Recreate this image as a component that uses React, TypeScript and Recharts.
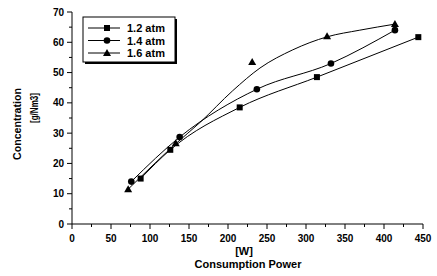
import { ComposedChart, Line, Scatter, XAxis, YAxis } from "recharts";

// power [W] / concentration [g/Nm3]
const x12 = [88, 126, 215, 314, 444];
const y12 = [15, 24.5, 38.5, 48.5, 61.7];
const x14 = [76, 138, 237, 332, 414];
const y14 = [14, 28.7, 44.5, 53, 64];
const x16 = [72, 133, 231, 327, 414];
const y16 = [11.5, 26.7, 53.5, 62, 66];

// fitted curve for 1.6 atm (does not pass through every point)
const fitX16 = [72, 100, 133, 164, 206, 241, 283, 327, 369, 414];
const fitY16 = [11.5, 18.5, 26.5, 33.5, 44, 51.5, 57.5, 61.8, 64, 66];

const xTicks = [0, 25, 50, 75, 100, 125, 150, 175, 200, 225, 250, 275, 300, 325, 350, 375, 400, 425, 450];
const yTicks = [0, 5, 10, 15, 20, 25, 30, 35, 40, 45, 50, 55, 60, 65, 70];

const legendItems = ["1.2 atm", "1.4 atm", "1.6 atm"];

const zip = (xs: number[], ys: number[]) => xs.map((x, i) => ({ x, y: ys[i] }));

const pts12 = zip(x12, y12);
const pts14 = zip(x14, y14);
const pts16 = zip(x16, y16);
const fit16 = zip(fitX16, fitY16);

const FONT = "'Liberation Sans', Arial, sans-serif";

const LeftTick = ({ x, y, payload }: any) => {
    const major = payload.value % 10 === 0;
    return (
        <g>
            <line x1={x} x2={x - (major ? 5 : 3)} y1={y} y2={y} stroke="#000" />
            {major && (
                <text x={x - 8} y={y} dy={3.5} textAnchor="end" fontSize={10} fontWeight="bold" fontFamily={FONT} fill="#000">
                    {payload.value}
                </text>
            )}
        </g>
    );
};

const BottomTick = ({ x, y, payload }: any) => {
    const major = payload.value % 50 === 0;
    return (
        <g>
            <line x1={x} x2={x} y1={y} y2={y + (major ? 5 : 3)} stroke="#000" />
            {major && (
                <text x={x} y={y + 17.5} textAnchor="middle" fontSize={10} fontWeight="bold" fontFamily={FONT} fill="#000">
                    {payload.value}
                </text>
            )}
        </g>
    );
};

const TopTick = ({ x, y, payload }: any) => {
    const major = payload.value % 50 === 0;
    return <line x1={x} x2={x} y1={y} y2={y + (major ? 5 : 3)} stroke="#000" />;
};

const RightTick = ({ x, y, payload }: any) => {
    const major = payload.value % 10 === 0;
    return <line x1={x} x2={x - (major ? 5 : 3)} y1={y} y2={y} stroke="#000" />;
};

const Square = ({ cx, cy }: any) => <rect x={cx - 3} y={cy - 3} width={6} height={6} fill="#000" />;
const Dot = ({ cx, cy }: any) => <circle cx={cx} cy={cy} r={3.3} fill="#000" />;
const Tri = ({ cx, cy }: any) => <path d={`M${cx},${cy - 4} L${cx + 4},${cy + 3} L${cx - 4},${cy + 3} Z`} fill="#000" />;

const markers = [Square, Dot, Tri];

export default function App() {
    return (
        <div style={{ position: "fixed", top: 0, left: 0, width: 437, height: 276, background: "#fff" }}>
            <ComposedChart width={437} height={276} margin={{ top: 12, right: 14, bottom: 0, left: 0 }}>
                <XAxis
                    dataKey="x" type="number" domain={[0, 450]} ticks={xTicks} interval={0}
                    height={52} tickSize={0} tickMargin={0} tickLine={false}
                    axisLine={{ stroke: "#000" }} tick={<BottomTick />}
                />
                <XAxis
                    xAxisId="top" orientation="top" dataKey="x" type="number" domain={[0, 450]} ticks={xTicks}
                    interval={0} height={0} tickSize={0} tickMargin={0} tickLine={false}
                    axisLine={{ stroke: "#000" }} tick={<TopTick />}
                />
                <YAxis
                    type="number" domain={[0, 70]} ticks={yTicks} interval={0} width={72}
                    tickSize={0} tickMargin={0} tickLine={false}
                    axisLine={{ stroke: "#000" }} tick={<LeftTick />}
                />
                <YAxis
                    yAxisId="right" orientation="right" type="number" domain={[0, 70]} ticks={yTicks} interval={0}
                    width={0} tickSize={0} tickMargin={0} tickLine={false}
                    axisLine={{ stroke: "#000" }} tick={<RightTick />}
                />
                <Line data={pts12} dataKey="y" type="monotone" stroke="#000" strokeWidth={1} dot={false} isAnimationActive={false} />
                <Line data={pts14} dataKey="y" type="monotone" stroke="#000" strokeWidth={1} dot={false} isAnimationActive={false} />
                <Line data={fit16} dataKey="y" type="monotone" stroke="#000" strokeWidth={1} dot={false} isAnimationActive={false} />
                <Scatter data={pts12} dataKey="y" shape={<Square />} isAnimationActive={false} />
                <Scatter data={pts14} dataKey="y" shape={<Dot />} isAnimationActive={false} />
                <Scatter data={pts16} dataKey="y" shape={<Tri />} isAnimationActive={false} />
            </ComposedChart>
            <svg width={437} height={276} style={{ position: "absolute", top: 0, left: 0, pointerEvents: "none" }}>
                <g fontFamily={FONT} fill="#000">
                    <text transform="translate(21,124) rotate(-90)" textAnchor="middle" fontSize={10} fontWeight="bold" textLength={72} lengthAdjust="spacingAndGlyphs">
                        Concentration
                    </text>
                    <text transform="translate(38,108) rotate(-90)" textAnchor="middle" fontSize={10} fontWeight="bold" textLength={30} lengthAdjust="spacingAndGlyphs">
                        [g/Nm3]
                    </text>
                    <text x={244} y={255} textAnchor="middle" fontSize={11} fontWeight="bold">[W]</text>
                    <text x={248} y={268} textAnchor="middle" fontSize={11} fontWeight="bold">Consumption Power</text>
                </g>
                <rect x={85} y={19} width={92} height={45} fill="#000" />
                <rect x={83} y={17} width={92} height={45} fill="#fff" stroke="#000" strokeWidth={1} />
                {legendItems.map((name, i) => {
                    const cy = 28 + i * 12.5;
                    const M = markers[i];
                    return (
                        <g key={name}>
                            <line x1={88} x2={120} y1={cy} y2={cy} stroke="#000" />
                            <M cx={107} cy={cy} />
                            <text x={127} y={cy + 4} fontSize={11} fontWeight="bold" fontFamily={FONT} fill="#000">{name}</text>
                        </g>
                    );
                })}
            </svg>
        </div>
    );
}
